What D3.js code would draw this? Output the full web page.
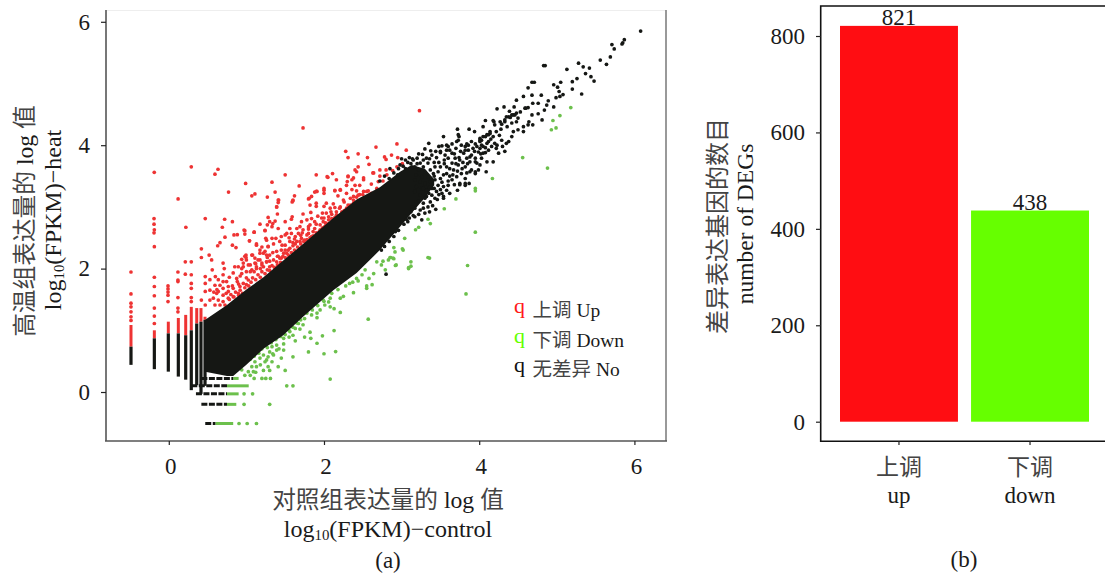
<!DOCTYPE html>
<html>
<head>
<meta charset="utf-8">
<script src="https://cdn.jsdelivr.net/npm/d3@7"></script>
<style>
  html, body { margin: 0; padding: 0; background: #fff; }
  svg { display: block; }
  text { font-family: "Liberation Serif", "Noto Sans CJK SC", serif; fill: #1a1a1a; }
  .cjk { fill: #444; }
</style>
</head>
<body>
<svg id="chart" width="1105" height="576"></svg>
<script>
// scatter: points, [control, heat]
const redPoints = [
  [-.187,3.56],[.29,3.65],[.634,3.61],[.595,3.53],[1.73,4.28],[2.28,3.9],[2.44,3.86],[2.67,3.97],[2.94,4.02],[2.56,3.8],[2.31,3.8],[2.78,3.81],[2.87,3.84],[2.8,3.77],[2.95,3.8],
  [2.44,3.65],[2.58,3.69],[2.4,3.6],[1.5,3.52],[1.9,3.52],[2.11,3.54],[2.05,3.48],[2.16,3.44],[.99,3.38],[1.33,3.4],[1.68,3.34],[.77,3.24],[1.11,3.21],[1.07,3.18],[1.37,3.24],[1.27,3.16],
  [.12,3.13],[-.19,2.81],[-.19,2.72],[-.19,2.58],[.47,2.81],[.72,2.8],[.82,2.76],[.22,2.67],[.69,2.67],[3.23,4.56],[3.06,3.92],[3.01,3.7],[2.94,3.65],[2.885,3.59],[2.8,3.6],[2.72,3.6],
  [2.04,3.49],[2.31,3.5],[2.36,3.44],[2.3,3.41],[2.4,3.35],[2.42,3.57],[2.51,3.44],[2.64,3.55],[2.72,3.5],[2.81,3.52],[2.61,3.37],[2.7,3.41],[2.76,3.42],
  [1.41,3.11],[1.41,3.07],[1.62,3.18],[1.6,3.11],[1.59,3.08],[1.91,3.25],[1.88,3.24],[1.84,3.17],[1.8,3.13],[2,3.3],[2,3.22],[2.14,3.26],[2.21,3.28],[2.18,3.18],[2.29,3.22],[2.36,3.28],[2.42,3.26],[2.46,3.35],
  [2.38,3.17],[2.44,3.19],[2.57,3.26],[2.51,3.25],[2.25,3.11],[2.31,3.03],[1.9,3.06],[1.82,3.03],[1.9,3.01],[2,3.01],[2.03,3.06],[2.08,2.98],[2.14,2.99],[2.21,3],
  [1.39,3],[1.4,2.885],[1.28,2.83],[1.73,2.885],[1.83,2.91],[2.03,2.9],[2.09,2.92],[2.16,2.92],[2.06,2.84],[1.97,2.82],[1.59,2.84],[1.58,2.8],[1.5,2.76],[1.37,2.77],[1.34,2.73],[1.3,2.76],[1.27,2.71],[1.175,2.72],
  [1.41,2.65],[1.33,2.68],[1.24,2.62],[1.1,2.59],[.97,2.625],[.98,2.56],[1.71,2.76],[1.84,2.81],[1.78,2.79],[1.82,2.71],[1.88,2.76],[1.95,2.71],[1.99,2.76],[2.06,2.79],
  [1.69,2.68],[1.65,2.65],[1.56,2.65],[1.52,2.57],[1.58,2.57],[1.67,2.57],[1.73,2.63],[1.8,2.64],[1.88,2.65],[1.63,2.52],[1.5,2.545],[1.45,2.52],[1.38,2.49],[1.33,2.49],[1.25,2.49],[1.28,2.36],
  [1.04,2.45],[1.13,2.38],[1.2,2.35],[1.24,2.28],[1.35,2.4],[1.43,2.44],[1.5,2.38],[1.56,2.44],[1.45,2.3],[1.54,2.3],[1.39,2.28],[1.3,2.22],[.98,2.2],[1.07,2.22],[1,2.14],[.94,2.15],[1.11,2.17],[1.175,2.25],[1.175,2.14],[1.26,2.11],[1.05,2.06],[1.13,2.03],[1.22,2.03],[1.3,2.03],[.96,2.03],[1.35,2.14],[1.43,2.17],
  [1.56,2.33],[1.63,2.4],[1.71,2.49],[1.78,2.545],[1.86,2.6],[1.95,2.63],[2.01,2.68],[2.1,2.81],[2.16,2.87],[2.23,2.92],[2.29,2.98],[1.52,2.25],[1.45,2.17],[1.39,2.11],[1.65,2.44],[1.75,2.46],[1.84,2.52],[1.93,2.545],[2.03,2.71],[2.14,2.79],[2.21,2.84],[1.6,2.37],[1.69,2.44],[1.8,2.57],[1.48,2.25],[1.41,2.2],
  [2.38,3.06],[2.44,3.09],[2.53,3.14],[2.61,3.22],[2.68,3.3],
  [-.487,1.945],[-.487,1.59],[-.487,1.44],[-.487,1.38],[-.487,1.3],[-.487,1.22],[-.487,1.16],[-.186,2.63],[-.186,2.356],[-.186,1.86],[-.186,1.71],[-.186,1.56],[-.186,1.36],[-.186,1.23],[-.186,1.11],
  [-.01,1.72],[-.01,1.67],[-.01,1.62],[-.01,1.57],[-.01,1.465],[.118,1.945],[.118,1.815],[.118,1.79],[.118,1.53],[.118,1.36],[.118,1.3],[.213,2.11],[.213,1.91],[.29,2.11],[.29,1.9],[.29,1.76],[.29,1.68],[.29,1.53],[.29,1.465],
  [.42,2.32],[.42,2.18],[.42,1.49],[.47,1.87],[.47,1.76],[.47,1.63],[.47,1.41],[.52,2.22],[.552,2.14],[.56,1.98],[.53,1.82],[.53,1.65],[.53,1.49],[.6,1.87],[.595,1.73],[.617,1.6],[.638,1.82],[.66,2.42],[.63,2.37],[.724,2.51],[.7,2.09],[.715,2],
  [.84,2.545],[.883,2.55],[.82,2.38],[.866,2.34],[.98,2.615],[1.1,2.59],[1.04,2.45],[1.13,2.4],[1.24,2.615],[1.26,2.46],[1.28,2.355],[.995,2.22],[.995,2.18],[1.08,2.22],[1.175,2.3],[1.22,2.25],[1.26,2.22],
  [.85,2.03],[.896,2.03],[.83,1.93],[.94,2],[1.025,2.06],[.96,2.09],[1.11,2.09],[1.15,2.14],[1.2,2.09],[1.26,2.11],[.94,1.92],[1,1.95],[1.07,1.98],[1.13,2],
  [.7,1.79],[.745,1.79],[.66,1.73],[.7,1.68],[.767,1.71],[.638,1.63],[.7,1.57],[.767,1.63],[.875,1.84],[.883,1.79],[.83,1.68],[.917,1.71],[.96,1.76],[1.025,1.815],
  [.574,1.52],[.638,1.49],[.7,1.465],[.767,1.52],[.83,1.545],[.896,1.6],[.595,1.41],[.66,1.41],[.724,1.41],
  [1.416,3.11],[1.39,3],[1.6,3.1],[1.81,3.14],[1.9,3.25],[2,3.27],[2.14,3.27],[2.21,3.27],[2.29,3.35],[2.38,3.47],[2.51,3.47],[2.63,3.55],[2.31,3.49],
  // the fringe hugging the cloud
  [.78,1.5],[.8,1.58],[.84,1.54],[.86,1.62],[.9,1.57],[.92,1.65],[.95,1.6],[.98,1.69],[1,1.74],[1.03,1.72],[1.06,1.78],[1.08,1.85],[1.12,1.82],[1.15,1.9],[1.18,1.86],[1.2,1.95],[1.24,1.92],[1.27,1.98],[1.3,1.97],[1.33,2.05],[1.36,2.02],[1.4,2.06],[1.44,2.1],[1.47,2.2],[1.5,2.18],[1.54,2.22],[1.58,2.26],[1.62,2.3],[1.66,2.35],[1.7,2.4],[1.74,2.44],[1.78,2.47],[1.82,2.5],[1.86,2.53],[1.9,2.58],[1.94,2.6],[1.98,2.66],[2.02,2.74],[2.06,2.73],[2.1,2.76],[2.14,2.83],[2.18,2.86],[2.22,2.88],[2.26,2.94],[2.3,2.95],[2.34,3.03],[2.38,3.11],[2.42,3.16],[2.46,3.2],[2.5,3.2],[2.55,3.25],
  [1.1,1.95],[1.2,2.06],[1.3,2.12],[1.4,2.2],[1.5,2.3],[1.6,2.42],[1.7,2.54],[1.8,2.68],[1.9,2.72],[2,2.82],[2.1,2.88],[2.2,2.98],[.9,1.75],[1,1.85],
  [1.05,1.95],[1.12,2.08],[1.18,2],[1.27,2.18],[1.34,2.26],[1.46,2.38],[1.55,2.5],[1.62,2.48],[1.72,2.58],[1.92,2.85],[1.98,2.9],[2.12,3.05],[2.26,3.08],[2.34,3.14],[.82,1.72],[.78,1.86],[.92,1.88],[.7,1.9],[.62,1.66],[.58,1.62],[.74,1.6]
];
const greenPoints = [
  [2.57,1.18],[2.08,.21],[2.15,.655],[2,.62],[1.8,.65],[1.6,.57],[1.91,.79],[1.98,.91],[2.13,.995],[1.83,.87],[1.75,.89],[1.82,.97],[1.63,.83],[1.5,.35],[1.41,.41],[1.48,.68],[1.48,.78],[1.45,.55],
  [2.21,1.29],[2.13,1.35],[2.38,1.61],[2.55,1.68],[2.55,1.72],[2.62,1.74],[2.58,1.84],[2.64,1.92],[2.44,1.8],[2.37,1.78],[2.25,1.55],[2.21,1.52],[3.12,2.11],[3.09,2.015],[2.93,2.06],[2.9,2.16],[2.86,2.18],[2.915,2.27],[2.83,2.14],[2.76,2.12],[2.74,2.06],[2.68,2.11],[3.34,2.18],[3.02,2.3],
  [2.53,1.98],[2.49,1.9],[2.42,1.84],[2.33,1.76],[2.08,1.52],[2.06,1.46],[2.01,1.41],[2.08,1.38],[1.99,1.49],[1.95,1.33],[1.91,1.28],[1.91,1.205],[1.84,1.25],[1.75,1.19],[1.73,1.09],[1.67,1.11],[1.69,1.02],[1.63,1.03],[1.56,.98],[1.6,.92],[1.55,.89],[1.48,.87],
  [1.39,.76],[1.33,.735],[1.39,.68],[1.3,.65],[1.35,.6],[1.28,.57],[1.22,.6],[1.175,.55],[1.24,.49],[1.33,.49],[1.11,.49],[1.13,.41],[1.07,.41],[1.025,.33],[1.22,.35],[1.3,.35],[1.09,.33],[.98,.27],[.94,.36],[1.05,.27],[1.28,.41],
  [1.1,.22],[1.2,.22],[1.25,.22],[1.31,.22],[1.52,.1],[1.6,.1],[.97,-.03],[1.08,-.03],[.97,-.2],[1.3,-.2],[.905,-.51],[1.01,-.51],[1.13,-.51],
  [5.18,4.61],[5.04,4.48],[4.95,4.4],[4.99,4.28],[4.93,4.25],[4.56,3.8],[4.88,3.63],[4.17,3.46],[3.95,3.3],[3.95,3.26],[3.7,3.13],[3.55,2.97],[3.34,2.8],[3.37,2.73],[3.22,2.67],[3.18,2.63],[3.95,2.59],[3.04,2.49],[2.9,2.34],[3.01,2.32],[3.36,2.17],[3.85,2.05],[3.83,1.59],[3.12,2.04],[3.09,2],[2.92,2.05],[2.89,2.17],[2.85,2.18],[2.79,1.98],
  [1,.5],[1.05,.53],[1.1,.58],[1.16,.63],[1.2,.7],[1.27,.72],[1.32,.8],[1.38,.85],[1.44,.9],[1.5,.93],[1.55,1],[1.6,1.05],[1.65,1.12],[1.7,1.17],[1.78,1.28],[1.85,1.33],[1.92,1.4],[2,1.47],[2.1,1.6],[2.18,1.66],[2.28,1.72],[1.12,.32],[1.18,.44],[1.26,.52],[1.34,.62],[1.42,.7]
];
const blackPoints = [
  [6.08,5.85],[5.87,5.71],[5.85,5.66],[5.84,5.64],[5.71,5.63],[5.74,5.56],[5.69,5.43],[5.56,5.38],[5.64,5.31],[5.28,5.33],[5.34,5.27],[5.42,5.25],[5.37,5.16],[5.13,5.23],[5.44,5.11],[5.48,5.04],[5.26,5.08],[5.2,5.03],[5.2,4.91],[5.32,4.83],[4.85,5.29],[4.83,5.29],
  [5.05,5.02],[4.96,4.98],[4.71,5.02],[4.68,5.02],[4.63,4.93],[5.01,4.94],[5.03,4.87],[5.08,4.82],[5.04,4.79],[4.99,4.77],[4.89,4.72],[4.96,4.62],[4.87,4.65],[4.84,4.57],[4.76,4.68],[4.8,4.81],[4.68,4.81],[4.57,4.79],[4.48,4.73],[4.69,4.68],[4.63,4.61],[4.6,4.6],[4.76,4.51],[4.81,4.41],[4.68,4.49],[4.64,4.38],[4.69,4.33],[4.57,4.3],
  [4.5,4.44],[4.44,4.49],[4.38,4.46],[4.33,4.38],[4.23,4.59],[4.32,4.62],[4.39,4.55],[4.45,4.62],[4.19,4.38],[4.08,4.4],[4.05,4.3],[3.72,4.26],[3.87,4.26],[3.94,4.22],[3.54,4.14],[3.74,4.14],[3.71,4.06],[3.35,4.03],[3.375,3.91],[3.3,3.94],[3.22,3.86],[3.5,3.88],[3.52,3.99],[3.6,3.98],[3.84,4.02],[4.01,4.11],[4.14,4.19],[4.2,4.03],[4.42,4.14],[4.38,4.06],[4.33,3.9],[4.25,3.87],[4.18,3.73],[4.09,3.57],[4.01,3.68],[3.95,3.57],[3.88,3.57],[3.82,3.38],[3.75,3.36],[3.72,3.27],[3.54,3.17],[3.44,2.96],
  [3.73,4.17],[3.73,4.08],[4.01,4.08],[4.05,4.14],[4.12,4.17],[3.97,3.98],[4.03,4],[4.1,4.03],[3.39,3.84],[3.2,3.79],[3.15,3.76],[3.28,3.76],[3.24,3.71],[3.32,3.79],[3.34,3.71],[3.28,3.65],[3.17,3.65],[3.22,3.6],[3.3,3.57],[3.37,3.6],[3.43,3.65],[3.41,3.54],[3.47,3.57],[3.34,3.49],[3.26,3.49],[3.19,3.52],[3.17,3.44],[3.24,3.41],[3.3,3.38],[3.37,3.41],[3.43,3.44],[3.5,3.46],[3.54,3.52],[3.58,3.54],[3.47,3.35],[3.39,3.3],[3.32,3.27],[3.26,3.3],[3.19,3.33],[3.17,3.25],[3.24,3.19],[3.32,3.17],[3.39,3.19],[3.45,3.25],[3.54,3.33],[3.6,3.35],[3.52,3.22],[3.58,3.27],[3.43,3.14],[3.37,3.08],[3.28,3.06],[3.19,3.08],[3.17,2.98],[3.24,2.95],[3.3,2.9],[3.26,2.79],[3.17,2.84],
  [3.58,4],[3.58,3.92],[3.56,3.84],[3.5,3.9],[3.65,3.87],[3.6,3.79],[3.65,3.71],[3.69,3.79],[3.58,3.65],[3.67,3.6],[3.73,3.68],[3.77,3.54],[3.71,3.49],[3.65,3.44],[3.82,3.46],[3.75,3.38],[3.87,3.38],[3.82,3.35],[3.54,3.14],
  [3.82,3.98],[3.86,3.92],[3.8,3.87],[3.9,3.84],[3.84,3.79],[3.95,3.79],[3.88,3.73],[3.97,3.71],[3.82,3.65],[3.9,3.6],[3.99,3.6],[3.95,3.54],[4.05,3.87],[4.12,3.92],[4.03,3.79],[4.1,3.73],[4.01,3.95],[3.9,4.06],[3.77,4],
  [4.01,4.06],[4.08,4.14],[4.14,4.22],[4.2,4.33],[4.27,4.38],[4.33,4.41],[4.4,4.45],[4.46,4.49],[4.53,4.54],[4.59,4.6],[4.18,4.4],[4.29,4.34],[4.35,4.46],[4.42,4.49],[4.48,4.52],[4.1,4.17],[4.03,4.08],[4.12,4.06],[4.05,3.98],[4.18,4.14],[4.23,4],[4.29,4.08],[4.35,4.03],[4.44,4.22],[4.5,4.25],[4.57,4.22],[4.63,4.33],
  [3.86,4],[3.82,3.92],[3.92,3.95],[3.99,3.89],[3.88,3.81],[3.95,3.73],[3.75,3.76],[2.8,1.91],[3.08,3.72],[3.02,3.66],[2.96,3.62],[3.15,2.86],[3.1,2.82],[3.03,2.72],
  [3.22,3.1],[3.28,3.3],[3.35,3.22],[3.42,3.3],[3.48,3.2],[3.14,3],[3.3,3.14],[3.36,3.32],[3.42,3.5],[3.5,3.65],[3.55,3.7],[3.62,3.62],[3.62,3.5],[3.7,3.7],[3.76,3.9],[3.7,3.95],[3.65,4.02],[3.45,3.8],[3.42,3.72],[3.48,3.72],[3.14,3.78],[3.05,3.76],[2.98,3.68],
  [2.72,3.42],[2.78,3.5],[2.84,3.46],[2.9,3.55],[2.95,3.52],[3,3.78],[3.05,3.62],[3.1,3.8],[2.85,3.62],[3.12,3.7],[3.2,3.7],[3.27,3.85],[3.36,3.78],[3.44,3.9],[3.48,3.98],[3.55,3.76],[3.62,3.92],[3.68,3.86],[3.74,3.8],[3.79,3.72],[3.85,3.7],[3.72,3.58],[3.78,3.62],[3.84,3.55],[3.66,3.52],[3.6,3.42],[3.52,3.4],[3.46,3.12],[3.4,3.02],[3.34,3],[3.5,3.28],[3.68,3.36],[3.62,3.22],[3.28,2.98],[3.36,2.92],[3.22,2.88],[3.12,2.92],[3.06,2.8],[2.96,2.62],[2.9,2.52],[2.84,2.44],[2.78,2.36],[2.74,2.3],[2.92,2.6],[3.08,2.76],
  [4.15,4.1],[4.22,4.22],[4.28,4.26],[4.36,4.3],[4.42,4.36],[4.48,4.38],[4.26,4.16],[4.16,3.98],[4.08,3.88],[4.22,3.95],[4.3,3.98],[3.95,4.02],[4.02,3.86],[3.94,3.9],[4.08,3.96]
];

// the solid cloud in the middle: band of heat values per control value
const coreX = [.47,.75,.83,1,1.22,1.475,1.73,2.12,2.42,2.72,2.98,3.13,3.3,3.42];
const coreHigh = [1.17,1.41,1.49,1.66,1.86,2.13,2.4,2.82,3.12,3.32,3.57,3.68,3.62,3.45];
const coreLow = [.33,.26,.26,.44,.7,.92,1.22,1.65,1.93,2.3,2.68,2.9,3.15,3.35];

// low expression columns (one value of control, many of heat)
const columnX = [-.487,-.186,-.006,.123,.218,.29,.36,.415,.467];
const columnTop = [.735,.87,.95,.95,.92,1,1.11,1.14,1.17];
const columnBottom = [.44,.37,.33,.25,.2,.03,.11,-.03,.1];
const redColumnTop = [1.086,1,1.14,1.2,1.25,1.38,1.36,1.36,1.22];

// low expression rows (one value of heat, many of control)
const rowY = [.22,.1,-.03,-.2,-.51];
const rowStart = [.42,.29,.35,.42,.47];
const rowSwitch = [.83,.75,.75,.75,.6];
const rowEnd = [.9,1.03,.9,.87,.83];

const scatterTicks = [0,2,4,6];
const legendLabels = ["上调", "下调", "无差异"];
const legendNames = ["Up", "Down", "No"];
const legendColors = ["#ff1a1a", "#66ff00", "#111"];

const barCategories = ["上调", "下调"];
const barEnglish = ["up", "down"];
const barValues = [821, 438];
const barColors = ["#ff0d12", "#66ff00"];
const barTicks = [0,200,400,600,800];

const RED = "#ee3333", GREEN = "#6cc04c", BLACK = "#151714";
const svg = d3.select("#chart");

// ---- panel a
const x = d3.scaleLinear([-.809, 6.407], [106, 666]);
const y = d3.scaleLinear([-.794, 6.183], [441, 10.5]);

const dots = (data, color) => svg.append("g").selectAll("circle")
  .data(data).join("circle")
  .attr("cx", d => x(d[0]))
  .attr("cy", d => y(d[1]))
  .attr("r", 1.85)
  .attr("fill", color);

svg.append("g").selectAll("line")
  .data(columnX).join("line")
  .attr("x1", d => x(d)).attr("x2", d => x(d))
  .attr("y1", (d, i) => y(redColumnTop[i]))
  .attr("y2", (d, i) => y(columnTop[i]))
  .attr("stroke", RED).attr("stroke-width", 3);
dots(redPoints, RED);

svg.append("g").selectAll("line")
  .data(rowY).join("line")
  .attr("x1", (d, i) => x(rowSwitch[i])).attr("x2", (d, i) => x(rowEnd[i]))
  .attr("y1", d => y(d)).attr("y2", d => y(d))
  .attr("stroke", GREEN).attr("stroke-width", 3);
dots(greenPoints, GREEN);

svg.append("g").selectAll("line")
  .data(rowY).join("line")
  .attr("x1", (d, i) => x(rowStart[i])).attr("x2", (d, i) => x(rowSwitch[i]))
  .attr("y1", d => y(d)).attr("y2", d => y(d))
  .attr("stroke", BLACK).attr("stroke-width", 3)
  .attr("stroke-dasharray", "6 1.5");
svg.append("g").selectAll("line")
  .data(columnX).join("line")
  .attr("x1", d => x(d)).attr("x2", d => x(d))
  .attr("y1", (d, i) => y(columnTop[i]))
  .attr("y2", (d, i) => y(columnBottom[i]))
  .attr("stroke", BLACK).attr("stroke-width", 3.2);

const coreArea = d3.area()
  .x(d => x(d))
  .y0((d, i) => y(coreLow[i]))
  .y1((d, i) => y(coreHigh[i]));
svg.append("path").attr("d", coreArea(coreX)).attr("fill", BLACK);
dots(blackPoints, BLACK);

// spines: the left and bottom are dark, top nearly gone
svg.append("line").attr("x1",106).attr("x2",666).attr("y1",10.5).attr("y2",10.5).attr("stroke","#eee");
svg.append("line").attr("x1",666).attr("x2",666).attr("y1",10).attr("y2",441).attr("stroke","#777").attr("stroke-width",1.5);
svg.append("line").attr("x1",106).attr("x2",106).attr("y1",10).attr("y2",441).attr("stroke","#777").attr("stroke-width",2);
svg.append("line").attr("x1",105).attr("x2",667).attr("y1",441).attr("y2",441).attr("stroke","#555").attr("stroke-width",1.5);

const styleAxis = (g, size) => {
  g.select(".domain").remove();
  g.selectAll(".tick line").attr("stroke", "#222").attr("stroke-width", 1.2);
  g.selectAll("text").attr("font-size", size).attr("fill", "#1a1a1a");
};
svg.append("g").attr("transform", "translate(0,441)")
  .call(d3.axisBottom(x).tickValues(scatterTicks).tickSize(4).tickPadding(13).tickFormat(d3.format("d")))
  .call(styleAxis, 23)
  .call(g => g.selectAll("text").attr("dx", 1.5));
svg.append("g").attr("transform", "translate(106,0)")
  .call(d3.axisLeft(y).tickValues(scatterTicks).tickSize(5).tickPadding(11).tickFormat(d3.format("d")))
  .call(styleAxis, 23);

// mixed text helper: [string, isCjk] pieces
function label(px, py, size, parts, rotate) {
  const t = svg.append("text")
    .attr("text-anchor", "middle")
    .attr("font-size", size)
    .attr("transform", `translate(${px},${py})` + (rotate ? " rotate(-90)" : ""));
  parts.forEach(p => {
    const s = t.append("tspan").text(p.text);
    if (p.cjk) s.attr("class", "cjk");
    if (p.sub) s.attr("font-size", size * .62).attr("dy", 3);
    if (p.up) s.attr("dy", -3);
  });
  return t;
}
const logLabel = word => [{text:"log"},{text:"10",sub:true},{text:"(FPKM)−" + word, up:true}];

label(388, 508, 23.7, [{text:"对照组表达量的",cjk:true},{text:" log "},{text:"值",cjk:true}]);
label(388, 537, 24, logLabel("control"));
label(388, 568, 23, [{text:"(a)"}]);
label(33, 221, 23.7, [{text:"高温组表达量的",cjk:true},{text:" log "},{text:"值",cjk:true}], true);
label(61, 220, 24, logLabel("heat"), true);

// legend
const legendY = d3.scalePoint().domain(legendLabels).range([317, 376]);
const legend = svg.append("g").selectAll("g")
  .data(legendLabels).join("g")
  .attr("transform", d => `translate(514,${legendY(d)})`);
legend.append("text").text("q")
  .attr("y", -4)
  .attr("font-size", 22)
  .style("fill", (d, i) => legendColors[i]);
legend.append("text").attr("x", 18.5).attr("font-size", 19.5)
  .call(t => t.append("tspan").attr("class", "cjk").text(d => d))
  .call(t => t.append("tspan").text((d, i) => " " + legendNames[i]));

// ---- panel b
const xBar = d3.scaleBand().domain(barCategories).range([840, 1089]).paddingInner(.1);
const yBar = d3.scaleLinear([0, 800], [421.7, 36]);

svg.append("g").selectAll("rect")
  .data(barValues).join("rect")
  .attr("x", (d, i) => xBar(barCategories[i]))
  .attr("y", d => yBar(d))
  .attr("width", xBar.bandwidth())
  .attr("height", d => yBar(0) - yBar(d))
  .attr("fill", (d, i) => barColors[i]);

svg.append("g").selectAll("text")
  .data(barValues).join("text")
  .attr("x", (d, i) => xBar(barCategories[i]) + xBar.bandwidth() / 2)
  .attr("y", d => yBar(d) - 1)
  .attr("text-anchor", "middle")
  .attr("font-size", 23)
  .text(d => d);

svg.append("path").attr("d", "M1105,6H820.7V441.3H1105").attr("fill", "none").attr("stroke", "#111").attr("stroke-width", 1.6);

svg.append("g").attr("transform", "translate(821,0)")
  .call(d3.axisLeft(yBar).tickValues(barTicks).tickSize(5).tickPadding(11))
  .call(styleAxis, 23);
svg.append("g").attr("transform", "translate(0,441)")
  .call(d3.axisBottom(xBar).tickSize(4).tickFormat(""))
  .call(g => g.select(".domain").remove())
  .call(g => g.selectAll(".tick line").attr("stroke", "#222").attr("stroke-width", 1.2));

barCategories.forEach((c, i) => {
  const cx = xBar(c) + xBar.bandwidth() / 2;
  label(cx, 475, 23, [{text:c,cjk:true}]);
  label(cx, 503, 23, [{text:barEnglish[i]}]);
});
label(726, 226, 24, [{text:"差异表达基因的数目",cjk:true}], true);
label(753, 224, 23.5, [{text:"number of DEGs"}], true);
label(964, 567, 23, [{text:"(b)"}]);
</script>
</body>
</html>
